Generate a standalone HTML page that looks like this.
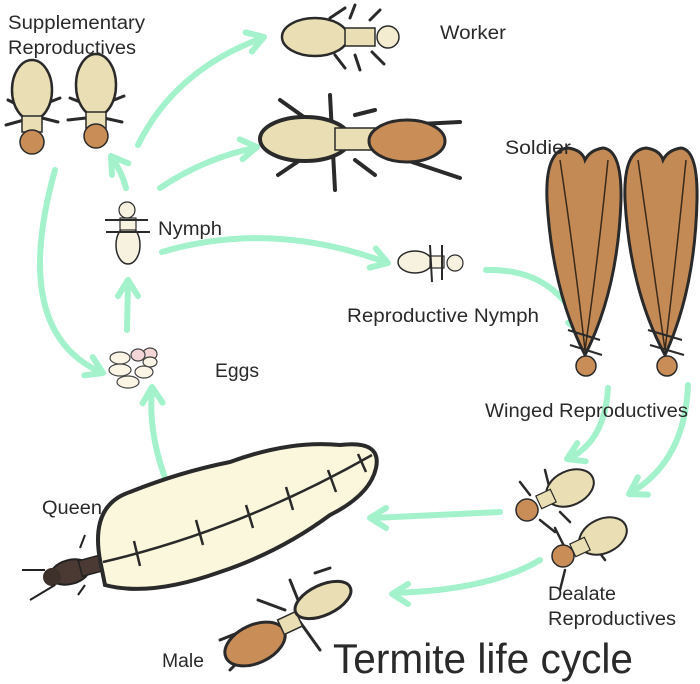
<!DOCTYPE html>
<html><head><meta charset="utf-8"><style>
html,body{margin:0;padding:0;background:#fff;}
svg{display:block;}
text{font-family:"Liberation Sans",sans-serif;fill:#2a2a2a;}
</style></head><body>
<svg width="700" height="684" viewBox="0 0 700 684" xmlns="http://www.w3.org/2000/svg">
<defs>
<g id="ch"><polyline points="-16,-10 0,0 -16,10" fill="none" stroke="#a3f2cc" stroke-width="6" stroke-linecap="round" stroke-linejoin="round"/></g>
</defs>
<g fill="none" stroke="#a3f2cc" stroke-width="6" stroke-linecap="round">
<path d="M138,145 Q175,70 262,38"/>
<path d="M126,188 Q122,172 112,158"/>
<path d="M160,188 Q205,158 255,148"/>
<path d="M162,252 Q270,220 385,262"/>
<path d="M486,270 Q555,268 582,330"/>
<path d="M55,170 Q10,330 100,372"/>
<path d="M127,330 L128,282"/>
<path d="M165,478 Q148,430 152,390"/>
<path d="M608,388 Q605,440 570,458"/>
<path d="M688,385 Q685,460 632,492"/>
<path d="M500,512 Q440,515 372,518"/>
<path d="M540,560 Q490,590 395,593"/>
</g>
<use href="#ch" transform="translate(264,37) rotate(-18)"/>
<use href="#ch" transform="translate(111,156) rotate(-125)"/>
<use href="#ch" transform="translate(257,147) rotate(-8)"/>
<use href="#ch" transform="translate(388,263) rotate(18)"/>
<use href="#ch" transform="translate(584,333) rotate(65)"/>
<use href="#ch" transform="translate(103,373) rotate(25)"/>
<use href="#ch" transform="translate(128,280) rotate(-90)"/>
<use href="#ch" transform="translate(152,387) rotate(-92)"/>
<use href="#ch" transform="translate(567,459) rotate(155)"/>
<use href="#ch" transform="translate(629,494) rotate(150)"/>
<use href="#ch" transform="translate(370,518) rotate(180)"/>
<use href="#ch" transform="translate(392,594) rotate(180)"/>

<g stroke="#2a2a2a" stroke-width="3" stroke-linecap="round">
<path d="M8,100 L24,108 M6,125 L24,120 M42,105 L60,98 M42,118 L58,122 M70,98 L85,104 M68,120 L86,118 M104,104 L124,96 M104,118 L122,122"/>
</g>
<ellipse cx="32" cy="90" rx="20" ry="30" fill="#eadfb4" stroke="#2a2a2a" stroke-width="2.5"/>
<rect x="22" y="116" width="20" height="16" fill="#eadfb4" stroke="#2a2a2a" stroke-width="1.5"/>
<circle cx="32" cy="142" r="12" fill="#c98d58" stroke="#2a2a2a" stroke-width="1.5"/>
<ellipse cx="96" cy="85" rx="20" ry="31" fill="#eadfb4" stroke="#2a2a2a" stroke-width="2.5"/>
<rect x="86" y="112" width="20" height="16" fill="#eadfb4" stroke="#2a2a2a" stroke-width="1.5"/>
<circle cx="96" cy="136" r="12" fill="#c98d58" stroke="#2a2a2a" stroke-width="1.5"/>

<g stroke="#2a2a2a" stroke-width="3" stroke-linecap="round"><path d="M330,18 L345,8 M335,55 L345,68 M350,18 L355,5 M355,55 L360,70 M370,20 L380,10 M372,52 L384,64"/></g>
<ellipse cx="315" cy="37" rx="33" ry="19" fill="#eadfb4" stroke="#2a2a2a" stroke-width="2.5"/>
<rect x="345" y="28" width="30" height="18" fill="#eadfb4" stroke="#2a2a2a" stroke-width="1.5"/>
<circle cx="388" cy="37" r="11" fill="#f3ecd0" stroke="#2a2a2a" stroke-width="1.5"/>

<g stroke="#2a2a2a" stroke-width="4" stroke-linecap="round"><path d="M280,100 L315,125 M278,175 L315,150 M330,95 L335,190 M355,115 L375,110 M355,160 L375,175 M400,125 L460,122 M400,158 L460,178"/></g>
<ellipse cx="305" cy="139" rx="45" ry="22" fill="#eadfb4" stroke="#2a2a2a" stroke-width="4"/>
<rect x="335" y="128" width="40" height="22" fill="#eadfb4" stroke="#2a2a2a" stroke-width="1.5"/>
<ellipse cx="407" cy="141" rx="38" ry="21" fill="#c98d58" stroke="#2a2a2a" stroke-width="3"/>

<path d="M585,355 Q552,290 547,200 Q545,150 568,148 Q582,150 585,160 Q590,150 603,148 Q622,150 621,200 Q618,290 585,355 Z" fill="#c48a55" stroke="#2a2a2a" stroke-width="3"/>
<path d="M665,355 Q630,290 625,200 Q623,150 646,148 Q660,150 663,160 Q668,150 681,148 Q698,150 697,200 Q695,290 665,355 Z" fill="#c48a55" stroke="#2a2a2a" stroke-width="3"/>
<g stroke="#3a2a1a" stroke-width="1.5" fill="none"><path d="M560,160 Q575,260 585,350 M608,160 Q598,260 585,350 M638,160 Q652,260 665,350 M686,160 Q676,260 665,350"/></g>
<circle cx="586" cy="366" r="10" fill="#c98d58" stroke="#2a2a2a" stroke-width="1.5"/>
<circle cx="667" cy="366" r="10" fill="#c98d58" stroke="#2a2a2a" stroke-width="1.5"/>
<path d="M568,330 L600,340 M570,345 L602,355 M648,330 L682,340 M650,345 L684,355" stroke="#2a2a2a" stroke-width="2"/>

<ellipse cx="128" cy="245" rx="12" ry="19" fill="#f7f2df" stroke="#2a2a2a" stroke-width="1.5"/>
<rect x="120" y="218" width="16" height="12" fill="#f7f2df" stroke="#2a2a2a" stroke-width="1.2"/>
<circle cx="127" cy="210" r="8" fill="#f7f2df" stroke="#2a2a2a" stroke-width="1.2"/>
<path d="M105,220 L148,220 M106,232 L150,232" stroke="#2a2a2a" stroke-width="2"/>

<ellipse cx="415" cy="262" rx="17" ry="11" fill="#f7f2df" stroke="#2a2a2a" stroke-width="1.5"/>
<rect x="430" y="256" width="14" height="12" fill="#f7f2df" stroke="#2a2a2a" stroke-width="1.2"/>
<circle cx="455" cy="263" r="8" fill="#f7f2df" stroke="#2a2a2a" stroke-width="1.2"/>
<path d="M430,245 L432,282 M442,245 L442,280" stroke="#2a2a2a" stroke-width="2"/>

<g fill="#fbf5e6" stroke="#444" stroke-width="1.2">
<ellipse cx="150" cy="354" rx="7" ry="6" fill="#f4d6d6"/>
<ellipse cx="138" cy="355" rx="7" ry="6" fill="#f4d6d6"/>
<ellipse cx="120" cy="358" rx="10" ry="6"/>
<ellipse cx="120" cy="370" rx="11" ry="6"/>
<ellipse cx="128" cy="382" rx="11" ry="6"/>
<ellipse cx="144" cy="372" rx="9" ry="6"/>
<ellipse cx="150" cy="362" rx="7" ry="5"/>
</g>

<ellipse cx="70" cy="572" rx="20" ry="12" fill="#4a3a33" stroke="#222" stroke-width="2" transform="rotate(-15 70 572)"/>
<rect x="80" y="558" width="22" height="16" fill="#4a3a33" stroke="#222" stroke-width="1.5" transform="rotate(-15 90 566)"/>
<circle cx="52" cy="577" r="9" fill="#3e302a"/>
<path d="M22,570 L45,570 M30,600 L55,585 M80,548 L85,535 M85,585 L78,595" stroke="#222" stroke-width="2"/>
<path d="M100,560 Q90,505 130,492 Q180,472 230,462 Q290,440 340,445 Q382,440 376,468 Q370,495 330,515 Q280,552 220,572 Q150,597 105,585 Z" fill="#fbf7dc" stroke="#2a2a2a" stroke-width="4"/>
<path d="M103,562 Q240,530 372,455" fill="none" stroke="#2a2a2a" stroke-width="2.5"/>
<g stroke="#2a2a2a" stroke-width="2.5"><path d="M134,541 L140,566 M196,520 L203,545 M246,505 L253,528 M286,487 L293,510 M328,470 L336,492 M358,454 L366,472"/></g>

<g stroke="#2a2a2a" stroke-width="3" stroke-linecap="round"><path d="M220,640 L245,630 M230,670 L250,650 M258,600 L285,610 M290,580 L300,605 M300,622 L320,650 M315,573 L330,568"/></g>
<ellipse cx="255" cy="644" rx="32" ry="19" fill="#c98d58" stroke="#2a2a2a" stroke-width="3" transform="rotate(-25 255 644)"/>
<rect x="280" y="615" width="20" height="16" fill="#eadfb4" stroke="#2a2a2a" stroke-width="1.5" transform="rotate(-25 290 623)"/>
<ellipse cx="323" cy="600" rx="30" ry="15" fill="#eadfb4" stroke="#2a2a2a" stroke-width="3" transform="rotate(-25 323 600)"/>

<g stroke="#2a2a2a" stroke-width="2.5" stroke-linecap="round"><path d="M520,482 L530,495 M545,470 L550,490 M540,520 L555,532 M560,512 L570,522 M555,528 L565,548 M560,590 L565,570 M590,540 L605,560"/></g>
<ellipse cx="570" cy="488" rx="25" ry="17" fill="#eadfb4" stroke="#2a2a2a" stroke-width="2" transform="rotate(-25 570 488)"/>
<rect x="538" y="492" width="16" height="14" fill="#eadfb4" stroke="#2a2a2a" stroke-width="1.2" transform="rotate(-25 546 499)"/>
<circle cx="527" cy="510" r="11" fill="#c98d58" stroke="#2a2a2a" stroke-width="1.5"/>
<ellipse cx="603" cy="536" rx="25" ry="17" fill="#eadfb4" stroke="#2a2a2a" stroke-width="2" transform="rotate(-25 603 536)"/>
<rect x="572" y="540" width="16" height="14" fill="#eadfb4" stroke="#2a2a2a" stroke-width="1.2" transform="rotate(-25 580 547)"/>
<circle cx="563" cy="556" r="11" fill="#c98d58" stroke="#2a2a2a" stroke-width="1.5"/>

<g font-size="19">
<text x="8" y="29" textLength="137" lengthAdjust="spacingAndGlyphs">Supplementary</text>
<text x="8" y="54" textLength="128" lengthAdjust="spacingAndGlyphs">Reproductives</text>
<text x="440" y="39" textLength="66" lengthAdjust="spacingAndGlyphs">Worker</text>
<text x="505" y="154" textLength="66" lengthAdjust="spacingAndGlyphs">Soldier</text>
<text x="158" y="235" textLength="64" lengthAdjust="spacingAndGlyphs">Nymph</text>
<text x="347" y="322" textLength="192" lengthAdjust="spacingAndGlyphs">Reproductive Nymph</text>
<text x="215" y="377" textLength="44" lengthAdjust="spacingAndGlyphs">Eggs</text>
<text x="485" y="417" textLength="203" lengthAdjust="spacingAndGlyphs">Winged Reproductives</text>
<text x="42" y="514" textLength="60" lengthAdjust="spacingAndGlyphs">Queen</text>
<text x="548" y="600" textLength="68" lengthAdjust="spacingAndGlyphs">Dealate</text>
<text x="548" y="625" textLength="128" lengthAdjust="spacingAndGlyphs">Reproductives</text>
<text x="162" y="667" textLength="42" lengthAdjust="spacingAndGlyphs">Male</text>
</g>
<text x="333" y="673" font-size="42" textLength="300" lengthAdjust="spacingAndGlyphs">Termite life cycle</text>
</svg>
</body></html>
